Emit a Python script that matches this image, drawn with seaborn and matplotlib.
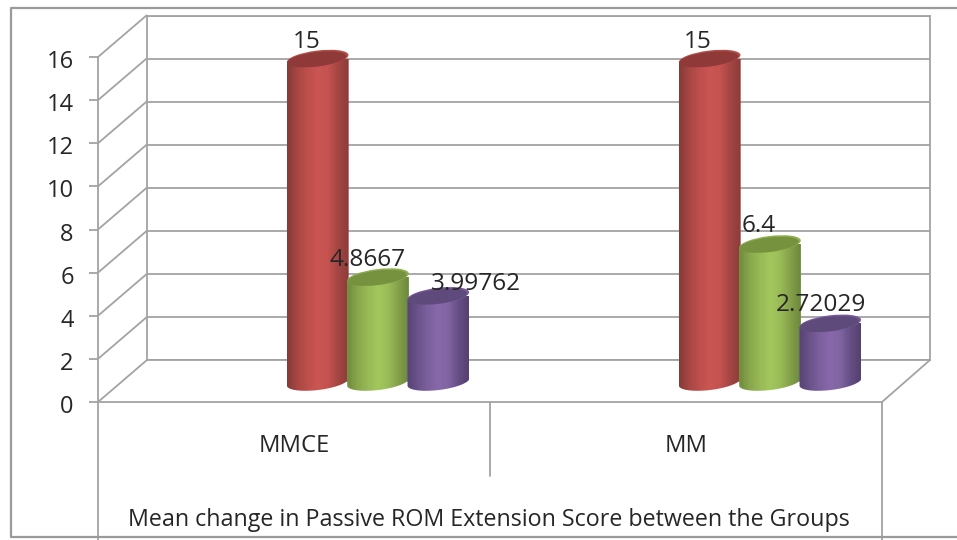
import numpy as np
import pandas as pd
import seaborn as sns
import matplotlib
matplotlib.use("Agg")
import matplotlib.pyplot as plt
from matplotlib.colors import LinearSegmentedColormap
from matplotlib.patches import Ellipse, Polygon
from matplotlib.transforms import IdentityTransform, ScaledTranslation

# ---- data -----
groups = ["MMCE", "MM"]
series_names = ["Series A", "Series B", "Series C"]
series_a = [15, 15]
series_b = [4.8667, 6.4]
series_c = [3.99762, 2.72029]
value_labels = [["15", "15"], ["4.8667", "6.4"], ["3.99762", "2.72029"]]
y_ticks = [0, 2, 4, 6, 8, 10, 12, 14, 16]
x_title = "Mean change in Passive ROM Extension Score between the Groups"

# ---- style ----
W, H = 957, 540
FONT = "Open Sans"
TXT = "#262626"
GRID = "#a3a3a3"
LW = 1.3
sns.set_theme(style="white")
plt.rcParams["font.family"] = [FONT, "DejaVu Sans"]

ramps = [
    (["#853a37", "#a84744", "#bd4f4c", "#cb5653", "#c4524f", "#a34542", "#8a3c39"], "#8f3a38", "#b04c48"),
    (["#6f8a3e", "#88a64b", "#98b957", "#a3c75d", "#9abc58", "#84a049", "#6c873c"], "#76923e", "#8fae52"),
    (["#564272", "#6a5289", "#7b609c", "#8868ab", "#8064a2", "#664e85", "#54406f"], "#5f4a7c", "#755a96"),
]
label_offsets = [[(-11, 17), (-11.5, 17)], [(-10, 17), (-11, 18)], [(38, 12), (-9, 18)]]


def box(left, right, top, bottom):
    return [left / W, 1 - bottom / H, (right - left) / W, (bottom - top) / H]


fig = plt.figure(figsize=(W / 100, H / 100), dpi=100, facecolor="white")

# back wall, with gridlines from the value scale
ax_wall = fig.add_axes(box(147, 930, 16, 360), zorder=1)
ax_wall.set_ylim(0, 16)
ax_wall.set_yticks(y_ticks)
ax_wall.set_xticks([])
ax_wall.tick_params(left=False, labelleft=False)
ax_wall.grid(True, axis="y", color=GRID, lw=LW)
for s in ax_wall.spines.values():
    s.set_color(GRID)
    s.set_linewidth(LW)
    s.set_visible(True)

# front plane: value axis and category labels
ax_front = fig.add_axes(box(98, 882, 57, 402), zorder=2)
ax_front.patch.set_alpha(0)
ax_front.set_xlim(-0.5, 1.5)
ax_front.set_ylim(0, 16)
ax_front.set_yticks(y_ticks)
ax_front.set_yticklabels([str(v) for v in y_ticks], fontsize=17, color=TXT)
ax_front.set_xticks(range(len(groups)))
ax_front.set_xticklabels(groups, fontsize=17.1, color=TXT)
ax_front.tick_params(axis="y", left=True, length=6.5, width=LW, color=GRID, pad=11)
ax_front.tick_params(axis="x", bottom=False, length=0, pad=23)
ax_front.set_xlabel(x_title, fontsize=16.75, color=TXT)
ax_front.xaxis.set_label_coords(0.498, -0.307)
drop = ScaledTranslation(0, -1.5 / 72, fig.dpi_scale_trans)
for lab in ax_front.get_yticklabels():
    lab.set_transform(lab.get_transform() + drop)
for name, s in ax_front.spines.items():
    s.set_visible(name in ("left", "bottom"))
    s.set_color(GRID)
    s.set_linewidth(LW)

# frame lines in pixel space: floor and side perspective, table, outer border
ax_px = fig.add_axes([0, 0, 1, 1], zorder=2)
ax_px.set_xlim(0, W)
ax_px.set_ylim(H, 0)
ax_px.axis("off")
for v in y_ticks:
    y = 402 - v * 345 / 16
    ax_px.plot([98, 147], [y, y - 42], color=GRID, lw=LW, solid_capstyle="butt")
ax_px.plot([882, 930], [402, 360], color=GRID, lw=LW)
ax_px.plot([98, 98], [402, 540], color=GRID, lw=LW)
ax_px.plot([882, 882], [402, 540], color=GRID, lw=LW)
ax_px.plot([490, 490], [402, 476], color=GRID, lw=LW)
ax_px.plot([957, 10.5, 10.5, 957], [8, 8, 537, 537], color="#9a9a9a", lw=LW + 0.3)

# cylinders, on a plane half way into the floor depth
table = pd.DataFrame({
    "group": groups * 3,
    "series": np.repeat(series_names, len(groups)),
    "value": series_a + series_b + series_c,
})
CX0, CX_STEP, Y0, Y_SPAN = 378, 392, 382, 345
ax = fig.add_axes(box(0, W, Y0 - Y_SPAN, Y0), zorder=3)
ax.patch.set_alpha(0)
sns.barplot(data=table, x="group", y="value", hue="series", order=groups,
            hue_order=series_names, width=0.4615, gap=0, legend=False,
            palette=["#c0504d", "#9bbb59", "#8064a2"], ax=ax, saturation=1)
xlim = (-CX0 / CX_STEP, (W - CX0) / CX_STEP)
ax.set_xlim(xlim)
ax.set_ylim(0, 16)
ax.axis("off")

CYL_W, ELL_H, TILT = 62, 16, 7
half = CYL_W / CX_STEP / 2
theta = np.radians(TILT)
t = np.linspace(np.pi, 2 * np.pi, 60)
arc_x = CYL_W / 2 * np.cos(t) * np.cos(theta) - ELL_H / 2 * np.sin(t) * np.sin(theta)
arc_y = CYL_W / 2 * np.cos(t) * np.sin(theta) + ELL_H / 2 * np.sin(t) * np.cos(theta)
for i, cont in enumerate(ax.containers):
    stops, top_col, rim_col = ramps[i]
    cmap = LinearSegmentedColormap.from_list(f"c{i}", stops)
    grad = np.linspace(0, 1, 256).reshape(1, -1)
    for j, bar in enumerate(cont):
        z = 3 + i * 3
        cx = bar.get_x() + bar.get_width() / 2
        val = bar.get_height()
        bar.set_x(cx - half)
        bar.set_width(2 * half)
        bar.set_zorder(z)
        bar.set_edgecolor("none")
        base_xy = ax.transData.transform((cx, 0))
        top_xy = ax.transData.transform((cx, val))
        rise = top_xy[1] - base_xy[1]
        outline = np.column_stack([base_xy[0] + arc_x, base_xy[1] + arc_y])
        outline = np.vstack([outline,
                             [outline[-1][0], outline[-1][1] + rise],
                             [outline[0][0], outline[0][1] + rise]])
        body = Polygon(outline, closed=True, transform=IdentityTransform(), fc="none", ec="none")
        ax.add_artist(body)
        bar.set_clip_box(fig.bbox)
        bar.set_clip_path(body)
        im = ax.imshow(grad, cmap=cmap, extent=(cx - half, cx + half, -1, val),
                       aspect="auto", zorder=z + 0.5, interpolation="bilinear")
        im.set_clip_box(fig.bbox)
        im.set_clip_path(body)
        ax.add_artist(Ellipse(top_xy, CYL_W, ELL_H, angle=TILT, transform=IdentityTransform(),
                              fc=rim_col, ec="none", zorder=z + 1, clip_on=False))
        ax.add_artist(Ellipse((top_xy[0] - 1, top_xy[1] - 0.8), CYL_W - 2.5, ELL_H - 1.6, angle=TILT,
                              transform=IdentityTransform(),
                              fc=top_col, ec="none", zorder=z + 1.5, clip_on=False))
        ax.annotate(value_labels[i][j], (cx, val), xytext=label_offsets[i][j],
                    textcoords="offset pixels", ha="center", va="center",
                    fontsize=17.6, color=TXT, zorder=30, annotation_clip=False)
ax.set_xlim(xlim)
ax.set_ylim(0, 16)

fig.savefig("out.png", dpi=100)
